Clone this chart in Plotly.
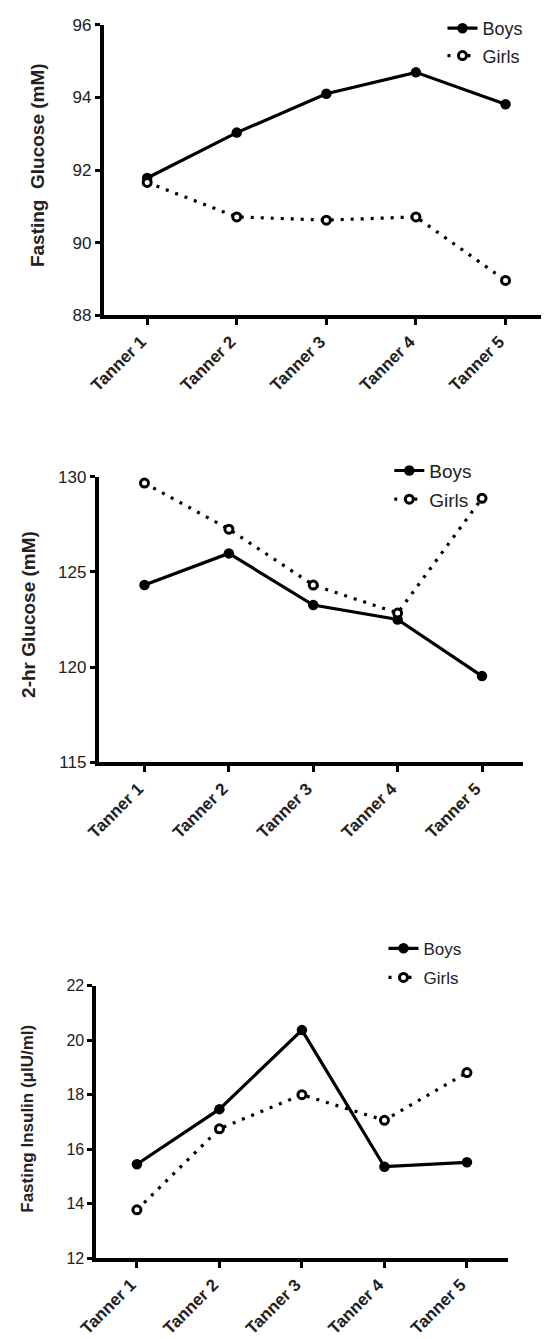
import plotly.graph_objects as go

tanner = ["Tanner 1", "Tanner 2", "Tanner 3", "Tanner 4", "Tanner 5"]

fg_boys = [91.78, 93.03, 94.10, 94.69, 93.81]
fg_girls = [91.66, 90.71, 90.62, 90.71, 88.96]

g2_boys = [124.31, 125.97, 123.26, 122.50, 119.53]
g2_girls = [129.66, 127.24, 124.31, 122.84, 128.86]

ins_boys = [15.45, 17.47, 20.37, 15.36, 15.52]
ins_girls = [13.78, 16.75, 18.00, 17.06, 18.81]

W, H = 544, 1339
FONT = "Liberation Sans, Arial, sans-serif"

def px_x(p):
    return p / W

def px_y(p):
    return 1 - p / H

fig = go.Figure()

panels = [
    dict(boys=fg_boys, girls=fg_girls, xs="x", ys="y", leg="legend",
         xl=88.5, xr=541.0, t1=133.6, t5=504.2, ytop=16.0, ybot=310.7,
         yr=[88, 96], dt=2, title="Fasting\u00a0\u00a0Glucose (mM)", tx=20, ty=158, tfs=19,
         legx=439, legy=1, legfs=18, gap=1, yfs=17),
    dict(boys=g2_boys, girls=g2_girls, xs="x2", ys="y2", leg="legend2",
         xl=83.3, xr=522.0, t1=130.8, t5=479.9, ytop=474.3, ybot=764.3,
         yr=[115, 130], dt=5, title="2-hr Glucose (mM)", tx=11, ty=614, tfs=19,
         legx=384, legy=449, legfs=19, gap=1, yfs=17),
    dict(boys=ins_boys, girls=ins_girls, xs="x3", ys="y3", leg="legend3",
         xl=80.8, xr=506.6, t1=123.0, t5=464.3, ytop=990.7, ybot=1267.3,
         yr=[12, 22], dt=2, title="Fasting Insulin (\u03bcIU/ml)", tx=9, ty=1126, tfs=17,
         legx=378, legy=935, legfs=17, gap=4, yfs=16),
]

for i, p in enumerate(panels):
    fig.add_trace(go.Scatter(
        x=tanner, y=p["boys"], name="Boys", mode="lines+markers",
        xaxis=p["xs"], yaxis=p["ys"], legend=p["leg"], legendgroup=f"b{i}",
        line=dict(color="black", width=3.2),
        marker=dict(symbol="circle", size=10.5, color="black"),
        cliponaxis=False,
    ))
    fig.add_trace(go.Scatter(
        x=tanner, y=p["girls"], name="Girls", mode="lines+markers",
        xaxis=p["xs"], yaxis=p["ys"], legend=p["leg"], legendgroup=f"g{i}",
        line=dict(color="black", width=3.2, dash="3px,7px"),
        marker=dict(symbol="circle", size=8, color="white",
                    line=dict(color="black", width=3)),
        cliponaxis=False,
    ))

layout = dict(
    width=W, height=H, margin=dict(l=0, r=0, t=0, b=0),
    paper_bgcolor="white", plot_bgcolor="white",
    font=dict(family=FONT, color="#222"),
    showlegend=True, hovermode=False,
)

annotations = []
for i, p in enumerate(panels):
    sfx = "" if i == 0 else str(i + 1)
    sp = (p["t5"] - p["t1"]) / 4
    lo = -(p["t1"] - p["xl"]) / sp
    hi = 4 + (p["xr"] - p["t5"]) / sp
    layout["xaxis" + sfx] = dict(
        domain=[px_x(p["xl"]), px_x(p["xr"])],
        anchor="y" + sfx, type="category", range=[lo, hi],
        showline=True, linecolor="black", linewidth=3.5,
        ticks="outside", ticklen=6, tickwidth=2.5, tickcolor="black",
        tickangle=-45, showgrid=False, zeroline=False,
        ticklabelshift=-6,
        tickfont=dict(family=FONT, size=17, color="#222", weight="bold"),
    )
    layout["yaxis" + sfx] = dict(
        domain=[px_y(p["ybot"]), px_y(p["ytop"])],
        anchor="x" + sfx, range=p["yr"], dtick=p["dt"], tick0=p["yr"][0],
        showline=True, linecolor="black", linewidth=3.5,
        ticks="outside", ticklen=5, tickwidth=2.5, tickcolor="black",
        showgrid=False, zeroline=False,
        tickfont=dict(family=FONT, size=p["yfs"], color="#222"),
    )
    layout[p["leg"]] = dict(
        x=px_x(p["legx"]), y=px_y(p["legy"]), xanchor="left", yanchor="top",
        bgcolor="rgba(0,0,0,0)", borderwidth=0,
        font=dict(family=FONT, size=p["legfs"], color="#222"),
        traceorder="grouped", tracegroupgap=p["gap"],
    )
    annotations.append(dict(
        text=p["title"], textangle=-90, xref="paper", yref="paper",
        x=px_x(p["tx"]), y=px_y(p["ty"]),
        showarrow=False, xanchor="center", yanchor="middle",
        font=dict(family=FONT, size=p["tfs"], color="#222", weight="bold"),
    ))

layout["annotations"] = annotations
fig.update_layout(**layout)
fig.write_html("out.html", config={"displayModeBar": False},
               post_script="document.body.style.margin='0px';")
